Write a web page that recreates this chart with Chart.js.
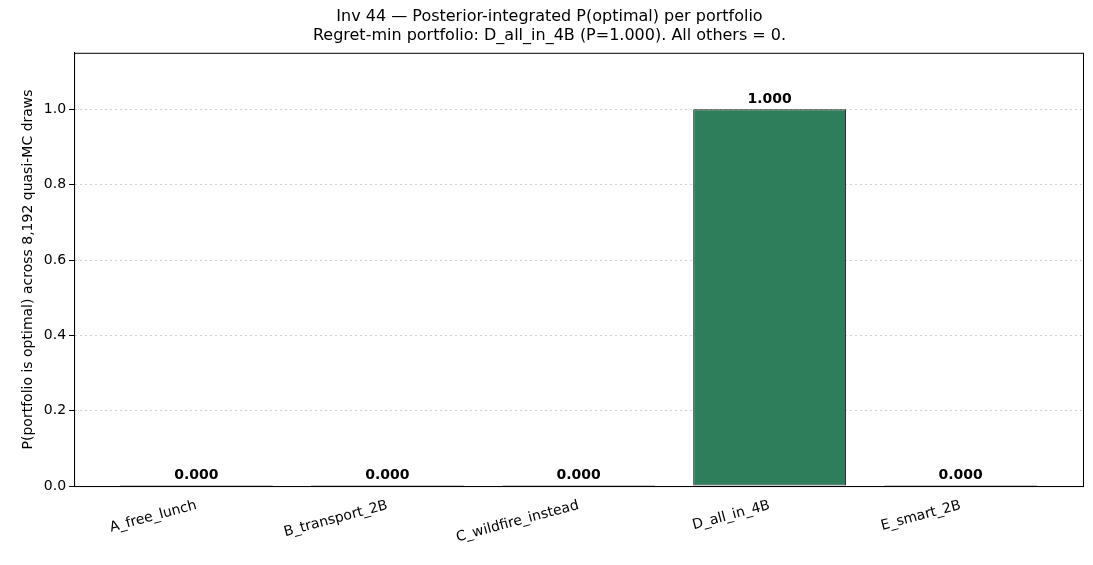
<!DOCTYPE html>
<html>
<head>
<meta charset="utf-8">
<script src="https://cdn.jsdelivr.net/npm/chart.js@4"></script>
<style>
html, body { margin: 0; padding: 0; background: #fff; }
#wrap { width: 1093px; height: 565px; }
</style>
</head>
<body>
<div id="wrap"><canvas id="pChart" width="1093" height="565"></canvas></div>
<script>
const categories = ["A_free_lunch", "B_transport_2B", "C_wildfire_instead", "D_all_in_4B", "E_smart_2B"];
const pOptimal = [0.0, 0.0, 0.0, 1.0, 0.0];
const yTicks = [0.0, 0.2, 0.4, 0.6, 0.8, 1.0];

const font = "'DejaVu Sans', sans-serif";

// value labels above each bar
const valueLabels = {
	id: "valueLabels",
	afterDatasetsDraw(chart) {
		const ctx = chart.ctx;
		const meta = chart.getDatasetMeta(0);
		ctx.save();
		ctx.font = "bold 14px " + font;
		ctx.fillStyle = "#000";
		ctx.textAlign = "center";
		ctx.textBaseline = "bottom";
		meta.data.forEach((bar, i) => {
			ctx.fillText(pOptimal[i].toFixed(3), bar.x, bar.y - 3);
		});
		ctx.restore();
	},
};

const plotFrame = {
	id: "plotFrame",
	afterDraw(chart) {
		const a = chart.chartArea;
		const ctx = chart.ctx;
		ctx.save();
		ctx.strokeStyle = "#000";
		ctx.lineWidth = 1;
		ctx.strokeRect(a.left + 0.5, a.top + 0.5, a.right - a.left, a.bottom - a.top);
		ctx.restore();
	},
};

new Chart(document.getElementById("pChart").getContext("2d"), {
	type: "bar",
	data: {
		datasets: [{
			data: pOptimal.map((v, i) => ({ x: i, y: v })),
			backgroundColor: "#2e7d5b",
			borderColor: "#222",
			borderWidth: 1,
			borderSkipped: false,
			minBarLength: 1,
			barPercentage: 0.8,
			categoryPercentage: 1.0,
		}],
	},
	options: {
		responsive: false,
		animation: false,
		devicePixelRatio: 1,
		layout: { padding: { left: 16, right: 10, top: 2, bottom: 16 } },
		plugins: {
			legend: { display: false },
			tooltip: { enabled: false },
			title: {
				display: true,
				text: ["Inv 44 \u2014 Posterior-integrated P(optimal) per portfolio",
					"Regret-min portfolio: D_all_in_4B (P=1.000). All others = 0."],
				color: "#000",
				font: { family: font, size: 16, weight: "normal", lineHeight: 1.15 },
				padding: { top: 6, bottom: 8 },
			},
		},
		scales: {
			x: {
				type: "linear",
				offset: false,
				min: -0.64,
				max: 4.64,
				grid: { display: false },
				border: { color: "#000" },
				afterBuildTicks(axis) {
					axis.ticks = categories.map((_, i) => ({ value: i }));
				},
				ticks: {
					color: "#000",
					font: { family: font, size: 14 },
					minRotation: 15,
					maxRotation: 15,
					autoSkip: false,
					callback: (v) => categories[v],
				},
			},
			y: {
				min: 0,
				max: 1.15,
				afterBuildTicks(axis) {
					axis.ticks = yTicks.map((v) => ({ value: v }));
				},
				grid: {
					color: "rgba(0,0,0,0.18)",
					tickColor: "#000",
					tickLength: 5,
				},
				border: { color: "#000", dash: [2, 3] },
				ticks: {
					color: "#000",
					font: { family: font, size: 14 },
					callback: (v) => v.toFixed(1),
				},
				title: {
					display: true,
					text: "P(portfolio is optimal) across 8,192 quasi-MC draws",
					color: "#000",
					font: { family: font, size: 14 },
				},
			},
		},
	},
	plugins: [valueLabels, plotFrame],
});
</script>
</body>
</html>
